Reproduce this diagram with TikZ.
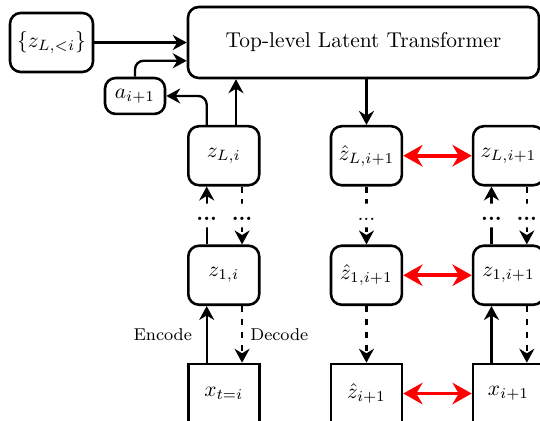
\documentclass[tikz,border=0pt]{standalone}
\usetikzlibrary{arrows.meta}

\begin{document}
\begin{tikzpicture}[
    >={Stealth[length=6.5pt,width=7pt]},
    box/.style={draw,line width=1.2pt,rounded corners=5pt,minimum width=1.164cm,minimum height=0.968cm,inner sep=1pt},
    obsbox/.style={box,sharp corners},
    flow/.style={->,line width=1.1pt,rounded corners=4pt},
    match/.style={{Stealth[length=9pt,width=10pt]}-{Stealth[length=9pt,width=10pt]},red,line width=1.8pt},
    gap/.style={fill=white,inner sep=1pt,text height=7pt,text depth=2pt,font=\bfseries}
  ]
  \clip (0,0) rectangle (8.856,6.904);

  % transformer and its inputs
  \node [box,minimum width=5.756cm,minimum height=1.164cm] (tf) at (5.961,6.207) {Top-level Latent Transformer};
  \node [box,minimum width=1.361cm] (zprev) at (0.845,6.207) {$\{z_{L,<i}\}$};
  \node [box,minimum width=0.984cm,minimum height=0.59cm] (act) at (2.214,5.33) {$a_{i+1}$};

  % step i
  \node [box] (zLi) at (3.67,4.35) {$z_{L,i}$};
  \node [box] (z1i) at (3.67,2.39) {$z_{1,i}$};
  \node [obsbox] (xi) at (3.67,0.45) {$x_{t=i}$};

  % predicted step i+1
  \node [box] (zhL) at (6.01,4.35) {$\hat{z}_{L,i+1}$};
  \node [box] (zh1) at (6.01,2.39) {$\hat{z}_{1,i+1}$};
  \node [obsbox] (zh0) at (6.01,0.45) {$\hat{z}_{i+1}$};

  % encoded step i+1
  \node [box] (zL1) at (8.34,4.35) {$z_{L,i+1}$};
  \node [box] (z11) at (8.34,2.39) {$z_{1,i+1}$};
  \node [obsbox] (x1) at (8.34,0.45) {$x_{i+1}$};

  % into the transformer
  \draw [flow] (zprev) -- (tf);
  \draw [flow] (act.north) |- ([yshift=-0.3cm]tf.west);
  \draw [flow] ([xshift=-0.28cm]zLi.north) |- (act.east);
  \draw [flow] ([xshift=0.2cm]zLi.north) -- ([xshift=0.2cm]zLi.north |- tf.south);
  \draw [flow] (tf.south -| zhL) -- (zhL);

  % encode / decode, step i
  \draw [flow] ([xshift=-0.28cm]xi.north) -- node[left=3pt,font=\footnotesize] {Encode} ([xshift=-0.28cm]z1i.south);
  \draw [flow,dashed] ([xshift=0.3cm]z1i.south) -- node[right,font=\footnotesize] {Decode} ([xshift=0.3cm]xi.north);
  \draw [flow] ([xshift=-0.28cm]z1i.north) -- node[gap] {...} ([xshift=-0.28cm]zLi.south);
  \draw [flow,dashed] ([xshift=0.3cm]zLi.south) -- node[gap] {...} ([xshift=0.3cm]z1i.north);

  % decoding the prediction
  \draw [flow,dashed] (zhL) -- node[gap,font=\normalfont] {...} (zh1);
  \draw [flow,dashed] (zh1) -- (zh0);

  % encode / decode, step i+1
  \draw [flow] ([xshift=-0.28cm]x1.north) -- ([xshift=-0.28cm]z11.south);
  \draw [flow,dashed] ([xshift=0.3cm]z11.south) -- ([xshift=0.3cm]x1.north);
  \draw [flow] ([xshift=-0.28cm]z11.north) -- node[gap] {...} ([xshift=-0.28cm]zL1.south);
  \draw [flow,dashed] ([xshift=0.3cm]zL1.south) -- node[gap] {...} ([xshift=0.3cm]z11.north);

  % matching
  \draw [match] (zhL) -- (zL1);
  \draw [match] (zh1) -- (z11);
  \draw [match] (zh0) -- (x1);
\end{tikzpicture}
\end{document}
